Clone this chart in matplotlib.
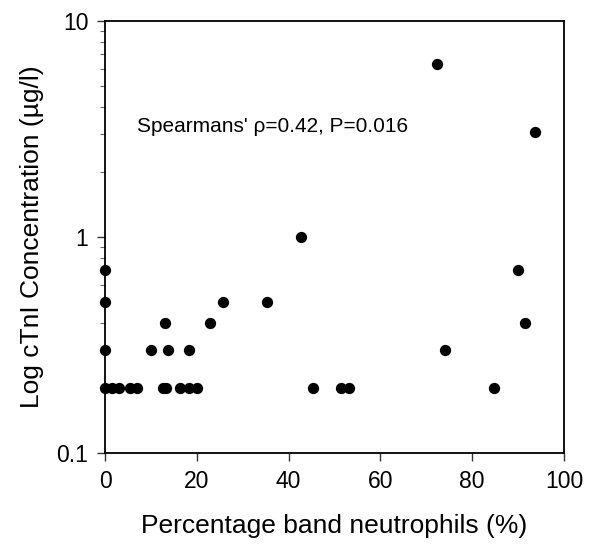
import matplotlib
matplotlib.use("Agg")
import matplotlib.pyplot as plt
from matplotlib.ticker import LogLocator, NullFormatter

plt.rcParams['font.family'] = ['Liberation Sans', 'DejaVu Sans']

band_pct = [0, 0, 0, 0, 1.5, 3.0, 5.4, 7.0, 12.6, 13.3, 16.3, 18.4, 20.1,
            10.0, 13.7, 18.4, 13.1, 22.9, 25.8, 35.4,
            42.7, 72.3, 93.7, 90.0, 91.6, 74.0, 45.3, 51.5, 53.2, 84.7]
ctni = [0.7, 0.5, 0.3, 0.2, 0.2, 0.2, 0.2, 0.2, 0.2, 0.2, 0.2, 0.2, 0.2,
        0.3, 0.3, 0.3, 0.4, 0.4, 0.5, 0.5,
        1.0, 6.3, 3.05, 0.7, 0.4, 0.3, 0.2, 0.2, 0.2, 0.2]
x_ticks = [0, 20, 40, 60, 80, 100]
y_ticks = [0.1, 1, 10]
y_tick_labels = ["0.1", "1", "10"]
annotation = "Spearmans' \u03c1=0.42, P=0.016"

fig = plt.figure(figsize=(6.0, 5.58), dpi=100)
W, H = 600, 558
ax = fig.add_axes([105 / W, 1 - 453 / H, (564 - 105) / W, (453 - 21) / H])
ax.scatter(band_pct, ctni, s=66, color='black', zorder=3, clip_on=False,
           linewidths=0)
ax.set_yscale('log')
ax.set_xlim(0, 100)
ax.set_ylim(0.1, 10)
ax.set_xticks(x_ticks)
ax.set_yticks(y_ticks)
ax.set_yticklabels(y_tick_labels)
ax.yaxis.set_minor_locator(LogLocator(base=10, subs=range(2, 10)))
ax.yaxis.set_minor_formatter(NullFormatter())
ax.tick_params(axis='both', which='major', direction='out', length=6, width=1,
               labelsize=16.5, pad=6, color='#333333')
ax.tick_params(axis='y', which='minor', direction='out', length=3.5, width=0.8,
               color='#666666')
for sp in ax.spines.values():
    sp.set_linewidth(1.3)
ax.set_xlabel("Percentage band neutrophils (%)", fontsize=19, labelpad=15)
ax.set_ylabel("Log cTnI Concentration (\u00b5g/l)", fontsize=19, labelpad=9)
ax.text(7.0, 3.25, annotation, fontsize=15, va='center', ha='left')

fig.savefig("out.png", dpi=100)
